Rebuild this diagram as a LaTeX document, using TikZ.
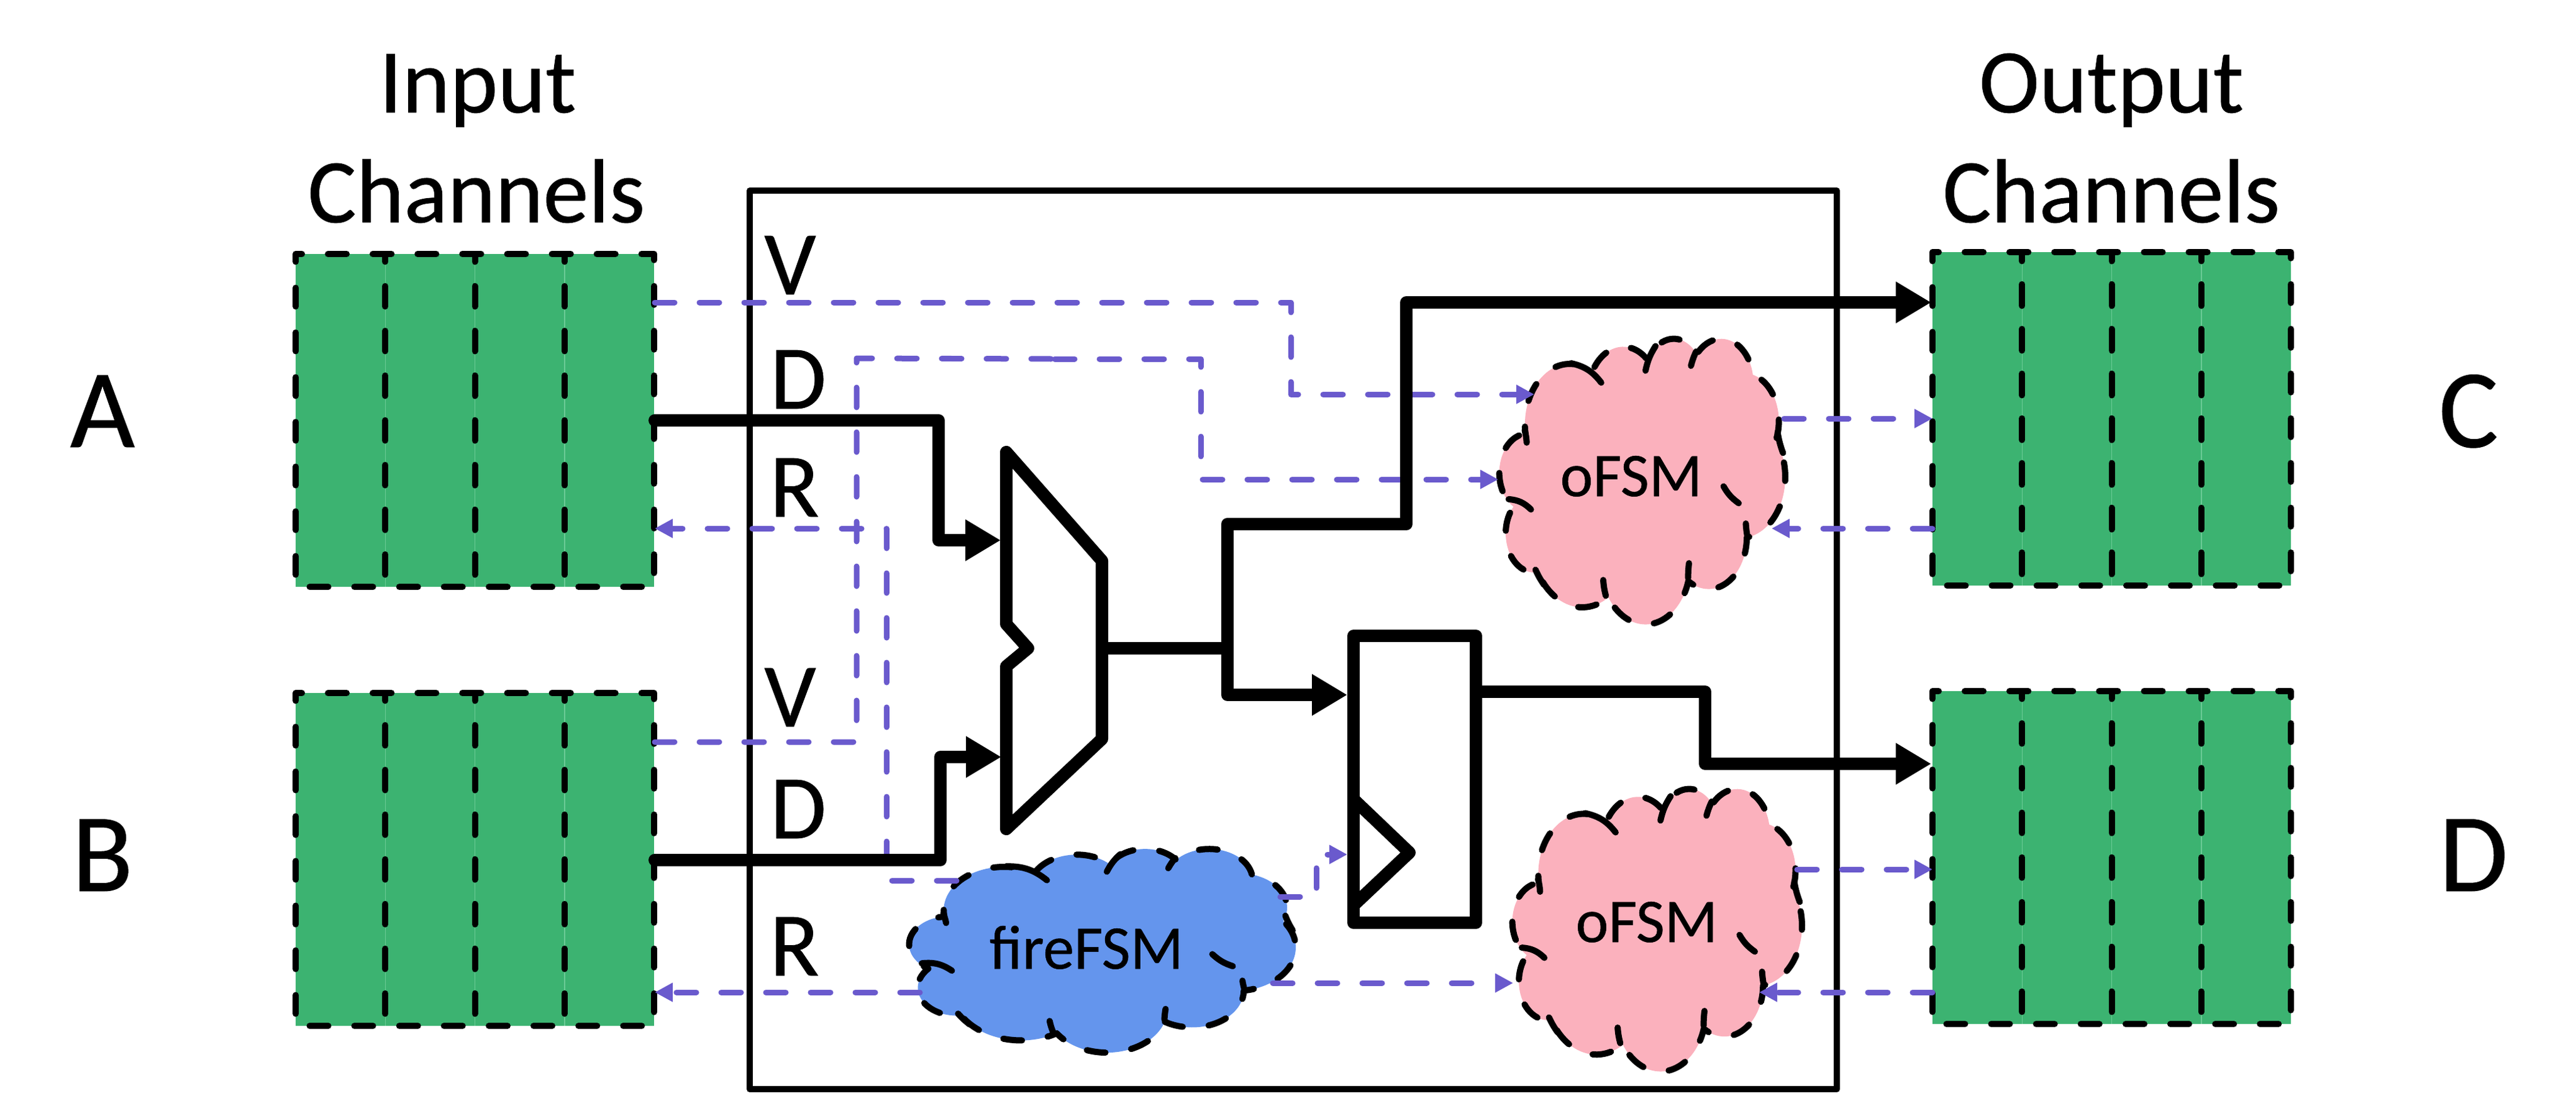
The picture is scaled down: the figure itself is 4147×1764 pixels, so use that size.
\documentclass[tikz,border=0pt]{standalone}
\usepackage{fontspec}
\setmainfont[FakeBold=0.5]{Carlito}
\usetikzlibrary{arrows.meta}
\definecolor{chgreen}{HTML}{3CB371}
\definecolor{seam}{HTML}{6CCB96}
\definecolor{sigpurple}{HTML}{6A5ACD}
\definecolor{cloudpink}{HTML}{FBB1BD}
\definecolor{cloudblue}{HTML}{6495ED}
\tikzset{
  x=0.2pt,y=-0.2pt,
  outerbox/.style={draw=black,line width=2pt,line join=round},
  blackdash/.style={draw=black,line width=2pt,line cap=round,line join=round,dash pattern=on 6pt off 8.4pt,dash phase=4pt},
  innerfrag/.style={draw=black,line width=2pt,line cap=round},
  wire/.style={draw=black,line width=4pt,line cap=round,line join=round},
  wirearrow/.style={wire,-{Triangle[length=11.4pt,width=12.6pt]}},
  ctl/.style={draw=sigpurple,line width=1.8pt,line cap=round,line join=round,dash pattern=on 6.4pt off 8pt},
  ctlarrow/.style={ctl,-{Triangle[length=5.8pt,width=5.8pt]}},
  shapeline/.style={draw=black,line width=4pt,line join=round},
  lab/.style={inner sep=0pt,outer sep=0pt,anchor=base,text=black},
  big/.style={lab,font=\fontsize{36}{40}\selectfont},
  mid/.style={lab,font=\fontsize{29.3}{34}\selectfont},
  small/.style={lab,font=\fontsize{20}{24}\selectfont},
}
% one channel: four cells, left x, top y, bottom y
\newcommand{\chan}[3]{%
  \fill[chgreen] (#1,#2) rectangle ({#1+577},#3);
  \foreach \ci in {1,2,3}{\draw[seam,line width=0.3pt] ({#1+\ci*144.3},#2) -- ({#1+\ci*144.3},#3);}
  \foreach \ci in {0,1,2,3}{%
    \draw[blackdash] ({#1+\ci*144.25},#2) -- ({#1+\ci*144.25+144.25},#2) -- ({#1+\ci*144.25+144.25},#3) -- ({#1+\ci*144.25},#3) -- cycle;}
}
\newcommand{\ca}[4]{arc[x radius={#1/432*\cW*0.002pt},y radius={#2/432*\cH*0.002pt},start angle={-atan2(#1*sin(#3),#2*cos(#3))},delta angle={-mod(atan2(#1*sin(#3+#4),#2*cos(#3+#4))-atan2(#1*sin(#3),#2*cos(#3))+720,360)}]}
\newcommand{\cfrag}[5]{\draw[innerfrag] ({\cX+#1/1000*\cW},{\cY+#2/1000*\cH}) to[bend right=#5] ({\cX+#3/1000*\cW},{\cY+#4/1000*\cH});}
% cloud: box x, y, w, h, fill
\newcommand{\cloudat}[5]{%
  \def\cX{#1}\def\cY{#2}\def\cW{#3}\def\cH{#4}%
  \path[fill=#5,blackdash] ({\cX+3900/432*\cW/100},{\cY+14370/432*\cH/100})
    \ca{6753}{9190}{-190.4875}{123.7805}
    \ca{5333}{7267}{-144.1024}{89.9452}
    \ca{4365}{5945}{-145.8079}{99.7230}
    \ca{4857}{6595}{-130.9861}{117.2417}
    \ca{5333}{7273}{-78.7089}{109.0269}
    \ca{6775}{9220}{-46.2673}{130.2690}
    \ca{5785}{7867}{0.6250}{114.0333}
    \ca{6752}{9215}{22.4516}{115.1726}
    \ca{7720}{10543}{66.2426}{75.7110}
    \ca{4360}{5918}{-274.9421}{146.7356}
    \ca{4345}{5945}{-246.8285}{152.5189}
    -- cycle;
  \cfrag{110}{601}{32}{565}{20}
  \cfrag{95}{367}{88}{322}{5}
  \cfrag{356}{157}{250}{89}{20}
  \cfrag{546}{29}{511}{115}{10}
  \cfrag{688}{48}{670}{98}{5}
  \cfrag{973}{331}{992}{403}{5}
  \cfrag{784}{520}{837}{579}{12}
  \cfrag{862}{650}{867}{693}{3}
  \cfrag{663}{789}{660}{841}{3}
  \cfrag{363}{848}{372}{903}{5}
  \cfrag{126}{812}{156}{865}{5}
}
\begin{document}
\begin{tikzpicture}
\useasboundingbox (0,0) rectangle (4147,1764);
\fill[white] (0,0) rectangle (4147,1764);

% end points
\coordinate (aV) at (1054,487); \coordinate (aD) at (1054,677); \coordinate (aR) at (1054,851);
\coordinate (bV) at (1054,1195); \coordinate (bD) at (1054,1385); \coordinate (bR) at (1054,1598);
\coordinate (cD) at (3109,487); \coordinate (cV) at (3111,674); \coordinate (cR) at (3111,851);
\coordinate (dD) at (3109,1230); \coordinate (dV) at (3111,1400); \coordinate (dR) at (3111,1598);
\coordinate (muxA) at (1611,870); \coordinate (muxB) at (1612,1219); \coordinate (muxOut) at (1774,1044);
\coordinate (fork) at (1976,1044);
\coordinate (regD) at (2169,1119); \coordinate (regQ) at (2376,1114); \coordinate (regClk) at (2169,1376);
\coordinate (o1V) at (2470,635); \coordinate (o1D) at (2412,772); \coordinate (o1Vout) at (2872,674); \coordinate (o1R) at (2852,851);
\coordinate (o2F) at (2436,1583); \coordinate (o2Vout) at (2893,1400); \coordinate (o2R) at (2832,1598);
\coordinate (fR1) at (1540,1418); \coordinate (fR2) at (1481,1598); \coordinate (fClk) at (2061,1444); \coordinate (fO) at (2049,1583);
\coordinate (dJoin) at (1698,578);

% module box
\draw[outerbox] (1207,307) rectangle (2957,1754);

% channels
\chan{476}{409}{945}
\chan{476}{1116}{1652}
\chan{3111}{406}{943}
\chan{3111}{1113}{1649}

% clouds
\cloudat{2414}{544}{460}{460}{cloudpink}
\cloudat{2435}{1269}{466}{455}{cloudpink}
\cloudat{1464}{1366}{622}{328}{cloudblue}

% control signals
\draw[ctlarrow] (aV) -- (2078,487) -- (2078,635) -- (o1V);
\draw[ctl] (bV) -- (1379,1195) -- (1379,577) -- (dJoin);
\draw[ctlarrow] (dJoin) -- (1933,578) -- (1933,772) -- (o1D);
\draw[ctlarrow] (fR1) -- (1427,1418) -- (1427,851) -- (aR);
\draw[ctlarrow] (fR2) -- (bR);
\draw[ctlarrow] (fClk) -- (2119,1444) -- (2119,1376) -- (regClk);
\draw[ctlarrow] (fO) -- (o2F);
\draw[ctlarrow] (o1Vout) -- (cV);
\draw[ctlarrow] (cR) -- (o1R);
\draw[ctlarrow] (o2Vout) -- (dV);
\draw[ctlarrow] (dR) -- (o2R);

% data wires
\draw[wirearrow] (aD) -- (1511,677) -- (1511,870) -- (muxA);
\draw[wirearrow] (bD) -- (1514,1385) -- (1514,1219) -- (muxB);
\draw[wire] (muxOut) -- (fork);
\draw[wirearrow] (fork) -- (1976,844) -- (2264,844) -- (2264,487) -- (cD);
\draw[wirearrow] (fork) -- (1976,1119) -- (regD);
\draw[wirearrow] (regQ) -- (2745,1114) -- (2745,1230) -- (dD);

% mux
\draw[shapeline] (1620,728) -- (1774,903) -- (1774,1190) -- (1620,1335) -- (1620,1073) -- (1655,1044) -- (1620,1005) -- cycle;
% register
\draw[shapeline] (2179,1024) rectangle (2376,1486);
\draw[shapeline] (2179,1287) -- (2269,1373) -- (2179,1458);

% labels
\node[mid] (tIn1) at (769,181) {Input};
\node[mid] (tIn2) at (767,358) {Channels};
\node[mid] (tOut1) at (3399,181) {Output};
\node[mid] (tOut2) at (3399,358) {Channels};
\node[big] (nA) at (165,720) {A};
\node[big] (nB) at (165,1435) {B};
\node[big] (nC) at (3974,720) {C};
\node[big] (nD) at (3982,1435) {D};
\node[mid] (aVt) at (1272,474) {V};
\node[mid] (aDt) at (1285,658) {D};
\node[mid] (aRt) at (1279,832) {R};
\node[mid] (bVt) at (1272,1170) {V};
\node[mid] (bDt) at (1285,1350) {D};
\node[mid] (bRt) at (1279,1571) {R};
\node[small] (o1t) at (2626,799) {oFSM};
\node[small] (o2t) at (2651,1517) {oFSM};
\node[small] (ft) at (1749,1560) {fireFSM};
\end{tikzpicture}
\end{document}
